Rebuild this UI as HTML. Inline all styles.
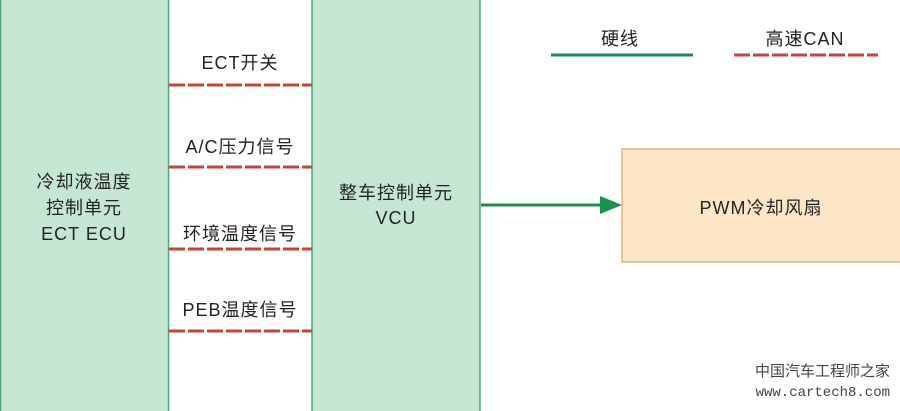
<!DOCTYPE html>
<html><head><meta charset="utf-8"><style>
body{margin:0;width:900px;height:411px;background:#fff;overflow:hidden;position:relative;font-family:"Liberation Sans","Noto Sans CJK SC",sans-serif;color:#222}
.t{position:absolute;white-space:nowrap;text-align:center;font-size:18px;letter-spacing:1px}
</style></head><body>
<svg width="900" height="411" style="position:absolute;left:0;top:0">
<rect x="0.5" y="-1" width="168" height="413" fill="#c6e6d4" stroke="#4aa874" stroke-width="1.5"/>
<rect x="312" y="-1" width="168" height="413" fill="#c6e6d4" stroke="#4aa874" stroke-width="1.5"/>
<rect x="622" y="149" width="285" height="113" fill="#fce6c6" stroke="#d9b483" stroke-width="1.5"/>
<g stroke="#c8423d" stroke-width="3" stroke-dasharray="16,3">
<line x1="169" y1="85" x2="312" y2="85"/>
<line x1="169" y1="167" x2="312" y2="167"/>
<line x1="169" y1="249" x2="312" y2="249"/>
<line x1="169" y1="331" x2="312" y2="331"/>
<line x1="734" y1="55" x2="878" y2="55"/>
</g>
<line x1="551" y1="55" x2="693" y2="55" stroke="#1f8a58" stroke-width="3"/>
<line x1="481" y1="205" x2="604" y2="205" stroke="#1f8a58" stroke-width="3"/>
<polygon points="600,196 622,205 600,214" fill="#1a9050"/>
</svg>
<div class="t" style="left:0;width:168px;top:169px;line-height:26px">冷却液温度<br>控制单元<br>ECT ECU</div>
<div class="t" style="left:312px;width:168px;top:181px;line-height:25px">整车控制单元<br>VCU</div>
<div class="t" style="left:168px;width:144px;top:49px">ECT开关</div>
<div class="t" style="left:168px;width:144px;top:133px">A/C压力信号</div>
<div class="t" style="left:168px;width:144px;top:220px">环境温度信号</div>
<div class="t" style="left:168px;width:144px;top:296px">PEB温度信号</div>
<div class="t" style="left:560px;width:120px;top:25px">硬线</div>
<div class="t" style="left:740px;width:130px;top:25px">高速CAN</div>
<div class="t" style="left:622px;width:278px;top:194px">PWM冷却风扇</div>
<div class="t" style="left:700px;width:190px;top:360px;font-size:15px;color:#444;letter-spacing:0;text-align:right">中国汽车工程师之家</div>
<div class="t" style="left:700px;width:190px;top:385px;font-size:14px;color:#444;letter-spacing:0;font-family:'Liberation Mono',monospace;text-align:right">www.cartech8.com</div>
</body></html>
